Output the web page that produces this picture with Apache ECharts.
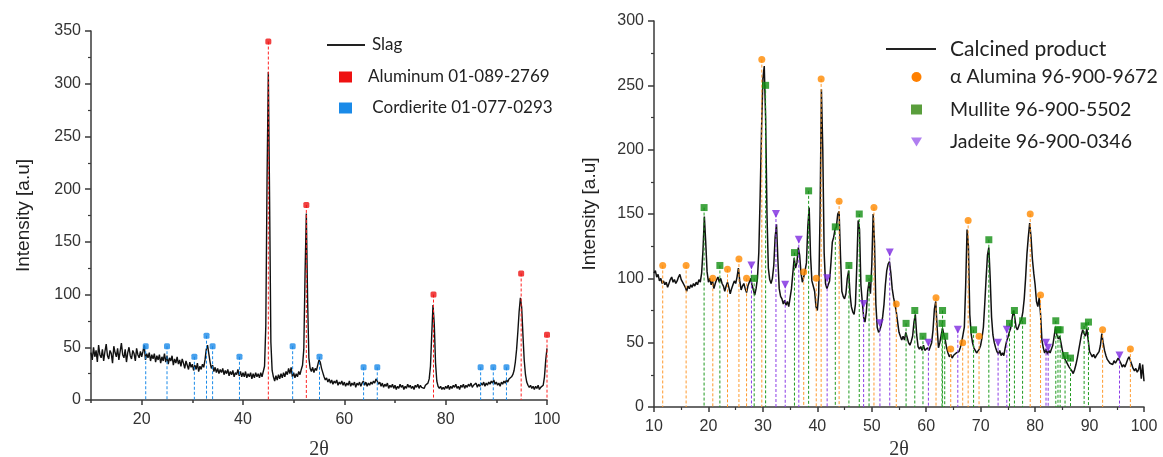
<!DOCTYPE html>
<html>
<head>
<meta charset="utf-8">
<script src="https://cdn.jsdelivr.net/npm/echarts@6/dist/echarts.min.js"></script>
<style>
  html, body { margin: 0; padding: 0; background: #fff; }
  #chart { width: 1163px; height: 457px; }
</style>
</head>
<body>
<div id="chart"></div>
<script>
// ---- Slag pattern (2θ scan from 10° to 100°, 0.25° steps) ----
const slagStart = 10;
const slagStep = 0.25;
const slagIntensity = [
  45,38,50,41,47,36,52,43,40,48,37,46,53,42,39,47,44,35,51,45,41,49,38,46,54,43,40,48,36,45,50,42,39,47,44,37,49,43,40,46,
  41,46,52,38,44,40,45,37,43,39,44,36,42,38,43,35,41,37,44,36,42,34,40,37,42,33,39,35,41,34,38,32,39,35,30,37,33,29,36,31,
  34,28,33,29,35,27,32,29,34,31,38,48,52,44,36,30,33,27,31,26,30,25,29,26,30,24,28,25,29,23,27,24,28,22,26,24,29,23,27,22,
  26,22,27,21,25,22,26,20,25,21,26,22,25,21,26,22,27,32,70,210,311,190,55,28,22,18,23,19,24,20,25,21,26,22,27,24,30,25,31,22,
  26,21,25,22,27,24,29,33,48,120,177,95,40,30,27,31,26,30,28,33,38,36,30,26,22,19,21,17,20,16,19,15,18,16,19,14,17,15,18,14,
  17,13,16,14,18,13,16,14,17,12,16,14,17,13,16,18,14,17,13,16,14,17,15,18,16,20,18,15,17,13,16,12,15,13,16,11,14,12,15,11,
  14,10,13,11,15,12,14,10,13,11,15,12,14,11,13,10,14,12,15,11,14,12,13,11,14,13,16,20,32,62,90,72,35,18,13,11,13,10,12,10,
  13,11,14,10,13,11,14,12,15,11,13,10,14,12,15,11,14,12,15,13,16,12,14,13,16,12,15,13,16,14,17,13,16,14,17,15,18,16,19,15,
  17,14,16,13,17,15,18,16,19,17,20,19,22,24,28,36,48,65,84,97,88,62,38,24,17,14,12,14,11,13,10,13,11,14,10,12,11,14,22,38,49
];

// Reference reflections for the slag
const aluminumPos = [45.0, 52.5, 77.6, 94.9, 100.0];
const aluminumInt = [340, 185, 100, 120, 62];
const cordieritePos = [20.8, 25.0, 30.4, 32.8, 34.0, 39.3, 49.8, 55.1, 63.8, 66.5, 86.9, 89.4, 92.0];
const cordieriteInt = [51, 51, 41, 61, 51, 41, 51, 41, 31, 31, 31, 31, 31];

// ---- Calcined product pattern (2θ scan from 10° to 100°, 0.25° steps) ----
const calcStart = 10;
const calcStep = 0.25;
const calcIntensity = [
  104,106,101,103,98,100,96,98,95,97,93,96,99,101,97,99,96,98,101,103,99,97,95,93,90,94,92,95,93,96,94,97,95,99,97,104,122,148,128,105,
  97,100,95,98,92,96,99,101,97,100,96,94,90,94,97,93,88,92,95,98,96,101,108,98,91,94,96,92,89,94,97,100,95,91,87,92,100,120,165,215,
  255,265,225,150,108,99,96,100,110,132,142,115,92,86,84,80,83,79,82,78,85,92,104,116,108,112,124,118,104,97,101,106,112,140,155,118,98,94,90,78,
  75,88,150,247,200,120,96,92,95,98,112,128,132,138,140,150,152,118,90,86,84,88,100,106,88,78,74,72,80,110,145,138,95,82,70,66,74,90,97,88,
  110,150,128,80,62,58,60,64,70,80,95,106,111,113,104,92,85,80,74,66,58,55,52,55,52,58,54,50,48,51,55,66,72,56,47,45,47,44,48,44,
  43,46,44,47,50,60,76,82,62,46,50,56,61,56,52,46,42,39,41,38,40,39,42,41,43,46,50,56,62,95,138,125,72,57,50,46,44,42,41,45,
  48,54,62,80,100,118,124,100,70,56,50,46,43,41,44,40,42,40,46,51,54,58,61,68,75,70,62,60,63,66,68,74,84,100,119,132,143,132,115,104,
  95,82,78,85,72,52,46,42,45,41,44,42,45,48,55,62,56,53,55,50,44,40,37,35,33,31,30,28,26,29,33,38,44,50,56,60,57,55,61,52,
  43,41,39,41,38,40,39,43,48,57,50,44,40,37,36,34,35,33,36,34,35,38,36,34,31,33,31,34,37,39,38,33,30,28,30,27,29,34,22,33,20
];

// Reference reflections for the calcined product
const aluminaPos = [11.6, 15.9, 20.8, 23.5, 25.6, 27.0, 29.8, 37.5, 39.8, 40.7, 44.0, 50.4, 54.5, 61.8, 64.5, 66.7, 67.7, 69.7, 79.1, 81.0, 92.4, 97.5];
const aluminaInt = [110, 110, 100, 107, 115, 100, 270, 105, 100, 255, 160, 155, 80, 85, 45, 50, 145, 55, 150, 87, 60, 45];
const mullitePos = [19.2, 22.1, 28.4, 30.5, 35.8, 38.4, 43.3, 45.8, 47.7, 49.5, 56.3, 57.9, 59.4, 62.9, 63.0, 63.4, 68.7, 71.5, 75.3, 76.2, 77.7, 83.8, 84.2, 84.6, 85.5, 86.5, 89.0, 89.8];
const mulliteInt = [155, 110, 100, 250, 120, 168, 140, 110, 150, 100, 65, 75, 55, 65, 75, 55, 60, 130, 65, 75, 67, 67, 60, 60, 40, 38, 63, 66];
const jadeitePos = [27.9, 32.4, 34.1, 36.6, 41.8, 48.5, 51.5, 53.3, 60.4, 65.8, 73.2, 74.8, 82.0, 82.4, 95.5];
const jadeiteInt = [110, 150, 95, 130, 100, 80, 65, 120, 50, 60, 50, 60, 50, 46, 40];

// Axis tick values
const slagXLabels = [20, 40, 60, 80, 100];
const slagXMinor = [10, 30, 50, 70, 90];

// ---- helpers ----
function scan(start, step, values) {
  return values.map((v, i) => [+(start + i * step).toFixed(2), v]);
}
function pairs(xs, ys) {
  return xs.map((x, i) => [x, ys[i]]);
}
function stems(name, xs, ys, color, xi, yi, dash) {
  return {
    type: 'custom', name: name, xAxisIndex: xi, yAxisIndex: yi,
    data: pairs(xs, ys), silent: true, z: 3,
    encode: { x: 0, y: 1 },
    renderItem: function (params, api) {
      const top = api.coord([api.value(0), api.value(1)]);
      const base = api.coord([api.value(0), 0]);
      return {
        type: 'line',
        shape: { x1: top[0], y1: top[1], x2: base[0], y2: base[1] },
        style: { stroke: color, lineWidth: 1, lineDash: dash }
      };
    }
  };
}
function marks(name, xs, ys, symbol, size, color, xi, yi, rotate) {
  return {
    type: 'scatter', name: name, xAxisIndex: xi, yAxisIndex: yi,
    data: pairs(xs, ys), symbol: symbol, symbolSize: size,
    symbolRotate: rotate || 0, clip: false, z: 4,
    itemStyle: { color: color }
  };
}

const axisCol = '#3a3a3a';
const tickFont = { fontFamily: 'Liberation Sans, Arial, sans-serif', fontSize: 16, color: '#333' };
const legendFont = 'Lato, "Open Sans", sans-serif';

const chart = echarts.init(document.getElementById('chart'), null, { renderer: 'canvas' });

chart.setOption({
  animation: false,
  backgroundColor: '#ffffff',
  grid: [
    { left: 91, top: 31, width: 456, height: 369, containLabel: false, outerBoundsMode: 'none' },
    { left: 654, top: 21, width: 490, height: 386, containLabel: false, outerBoundsMode: 'none' }
  ],
  xAxis: [
    {
      gridIndex: 0, type: 'value', position: 'bottom', min: 10, max: 100, interval: 10,
      axisLine: { show: true, lineStyle: { color: axisCol, width: 1.5 } },
      axisTick: { show: true, customValues: slagXLabels, length: 5, lineStyle: { color: axisCol, width: 1.5 } },
      axisLabel: Object.assign({ customValues: slagXLabels, margin: 12 }, tickFont),
      splitLine: { show: false },
      name: '2θ', nameLocation: 'middle', nameGap: 40,
      nameTextStyle: { fontFamily: 'Liberation Serif, "Times New Roman", serif', fontSize: 20, color: '#333' }
    },
    {
      gridIndex: 0, type: 'value', position: 'bottom', min: 10, max: 100, interval: 10,
      axisLine: { show: false },
      axisTick: { show: true, customValues: slagXMinor, length: 3, lineStyle: { color: axisCol, width: 1.5 } },
      axisLabel: { show: false },
      splitLine: { show: false }
    },
    {
      gridIndex: 1, type: 'value', position: 'bottom', min: 10, max: 100, interval: 10,
      axisLine: { show: true, lineStyle: { color: axisCol, width: 1.5 } },
      axisTick: { show: true, length: 5, lineStyle: { color: axisCol, width: 1.5 } },
      minorTick: { show: true, splitNumber: 2, length: 3, lineStyle: { color: axisCol, width: 1.2 } },
      axisLabel: Object.assign({ margin: 12 }, tickFont),
      splitLine: { show: false },
      name: '2θ', nameLocation: 'middle', nameGap: 21,
      nameTextStyle: { fontFamily: 'Liberation Serif, "Times New Roman", serif', fontSize: 20, color: '#333' }
    }
  ],
  yAxis: [
    {
      gridIndex: 0, type: 'value', min: 0, max: 350, interval: 50,
      axisLine: { show: true, lineStyle: { color: axisCol, width: 1.5 } },
      axisTick: { show: true, length: 6, lineStyle: { color: axisCol, width: 1.5 } },
      minorTick: { show: true, splitNumber: 2, length: 3, lineStyle: { color: axisCol, width: 1.2 } },
      axisLabel: Object.assign({ margin: 10 }, tickFont),
      splitLine: { show: false },
      name: 'Intensity [a.u]', nameLocation: 'middle', nameGap: 58,
      nameTextStyle: { fontFamily: 'Liberation Sans, Arial, sans-serif', fontSize: 19, color: '#222' }
    },
    {
      gridIndex: 1, type: 'value', min: 0, max: 300, interval: 50,
      axisLine: { show: true, lineStyle: { color: axisCol, width: 1.5 } },
      axisTick: { show: true, length: 6, lineStyle: { color: axisCol, width: 1.5 } },
      minorTick: { show: true, splitNumber: 2, length: 3, lineStyle: { color: axisCol, width: 1.2 } },
      axisLabel: Object.assign({ margin: 10 }, tickFont),
      splitLine: { show: false },
      name: 'Intensity [a.u]', nameLocation: 'middle', nameGap: 55,
      nameTextStyle: { fontFamily: 'Liberation Sans, Arial, sans-serif', fontSize: 19, color: '#222' }
    }
  ],
  legend: [
    {
      left: 322, top: 30, orient: 'vertical', selectedMode: false,
      itemWidth: 38, itemHeight: 2,
      data: [{ name: 'Slag', icon: 'rect', itemStyle: { color: '#222' } }],
      textStyle: { fontFamily: legendFont, fontSize: 17, lineHeight: 20, color: '#222', padding: [0, 0, 0, 2] }
    },
    {
      left: 334, top: 62, orient: 'vertical', selectedMode: false,
      itemWidth: 13, itemHeight: 11, itemGap: 11,
      formatter: function (name) { return name.indexOf('Cordierite') === 0 ? ' ' + name : name; },
      data: [
        { name: 'Aluminum 01-089-2769', icon: 'rect', itemStyle: { color: '#ee1111' } },
        { name: 'Cordierite 01-077-0293', icon: 'rect', itemStyle: { color: '#1a8ae8' } }
      ],
      textStyle: { fontFamily: legendFont, fontSize: 17, lineHeight: 20, color: '#222', padding: [0, 0, 0, 11] }
    },
    {
      left: 881, top: 32, orient: 'vertical', selectedMode: false,
      itemWidth: 50, itemHeight: 2,
      data: [{ name: 'Calcined product', icon: 'rect', itemStyle: { color: '#222' } }],
      textStyle: { fontFamily: legendFont, fontSize: 21, lineHeight: 24, color: '#222', padding: [0, 0, 0, 9] }
    },
    {
      left: 906, top: 61, orient: 'vertical', selectedMode: false,
      itemWidth: 11, itemHeight: 10, itemGap: 10.5,
      data: [
        { name: 'α Alumina 96-900-9672', icon: 'circle', itemStyle: { color: '#ff8000' } },
        { name: 'Mullite 96-900-5502', icon: 'rect', itemStyle: { color: '#5a9e3c' } },
        { name: 'Jadeite 96-900-0346', icon: 'path://M0,0L10,0L5,8Z', itemStyle: { color: '#b07ef0' } }
      ],
      textStyle: { fontFamily: legendFont, fontSize: 19.5, lineHeight: 22, color: '#222', padding: [0, 0, 0, 23] }
    }
  ],
  series: [
    {
      type: 'line', name: 'Slag', xAxisIndex: 0, yAxisIndex: 0,
      data: scan(slagStart, slagStep, slagIntensity),
      showSymbol: false, z: 2,
      lineStyle: { color: '#111', width: 1.4 }, itemStyle: { color: '#111' }
    },
    stems('Aluminum 01-089-2769', aluminumPos, aluminumInt, '#ff2020', 0, 0, [3, 2]),
    stems('Cordierite 01-077-0293', cordieritePos, cordieriteInt, '#1a8ae8', 0, 0, [3, 2]),
    marks('Aluminum 01-089-2769', aluminumPos, aluminumInt, 'roundRect', 6, '#ee1111', 0, 0),
    marks('Cordierite 01-077-0293', cordieritePos, cordieriteInt, 'roundRect', 6, '#1a8ae8', 0, 0),

    {
      type: 'line', name: 'Calcined product', xAxisIndex: 2, yAxisIndex: 1,
      data: scan(calcStart, calcStep, calcIntensity),
      showSymbol: false, z: 2,
      lineStyle: { color: '#111', width: 1.5 }, itemStyle: { color: '#111' }
    },
    stems('α Alumina 96-900-9672', aluminaPos, aluminaInt, '#ff9a2e', 2, 1, [3, 2]),
    stems('Mullite 96-900-5502', mullitePos, mulliteInt, '#1e9a1e', 2, 1, [3, 2]),
    stems('Jadeite 96-900-0346', jadeitePos, jadeiteInt, '#8c3ce6', 2, 1, [3, 2]),
    marks('α Alumina 96-900-9672', aluminaPos, aluminaInt, 'circle', 7, '#ff8a00', 2, 1),
    marks('Mullite 96-900-5502', mullitePos, mulliteInt, 'rect', 7, '#138f13', 2, 1),
    marks('Jadeite 96-900-0346', jadeitePos, jadeiteInt, 'triangle', 8, '#7d2ae0', 2, 1, 180)
  ]
});
</script>
</body>
</html>
